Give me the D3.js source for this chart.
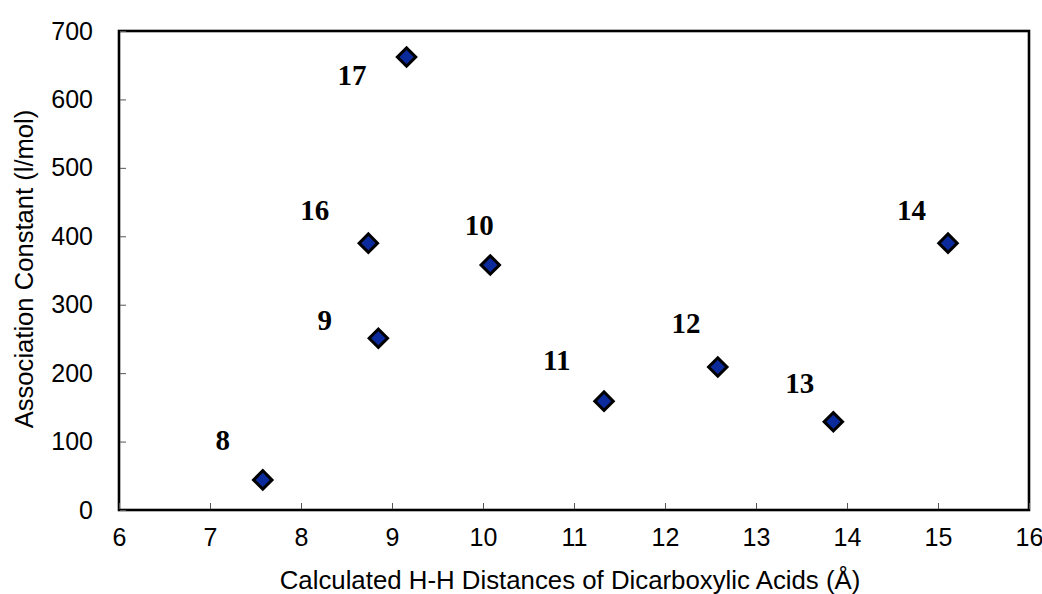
<!DOCTYPE html>
<html><head><meta charset="utf-8">
<script src="https://cdn.jsdelivr.net/npm/d3@7"></script>
<style>body{margin:0;background:#fff}svg{display:block}</style>
</head><body>
<script>
const labels = ["8","9","10","11","12","13","14","16","17"];
const distances = [7.58, 8.85, 10.08, 11.33, 12.58, 13.85, 15.11, 8.74, 9.16];
const constants = [44, 251, 358, 159, 209, 129, 390, 390, 662];
const labelX = [7.14, 8.26, 9.96, 10.81, 12.23, 13.48, 14.71, 8.15, 8.56];
const labelY = [102, 278, 417, 219, 273, 186, 439, 439, 636];
const xTicks = [6,7,8,9,10,11,12,13,14,15,16];
const yTicks = [0,100,200,300,400,500,600,700];

const W = 1042, H = 594;
const m = {left:119, right:1042-1029, top:31, bottom:594-510};
const svg = d3.select("body").append("svg").attr("width", W).attr("height", H);
const x = d3.scaleLinear().domain([6,16]).range([m.left, W-m.right]);
const y = d3.scaleLinear().domain([0,700]).range([H-m.bottom, m.top]);
const sans = "Liberation Sans, Arial, Helvetica, sans-serif";

// frame
svg.append("rect").attr("x", x(6)).attr("y", y(700)).attr("width", x(16)-x(6)).attr("height", y(0)-y(700))
  .attr("fill","none").attr("stroke","#000").attr("stroke-width",2.6);

// axes (ticks inside)
const xa = svg.append("g").attr("transform",`translate(0,${y(0)})`)
  .call(d3.axisBottom(x).tickValues(xTicks).tickSize(0).tickPadding(18).tickFormat(d3.format("d")));
xa.select(".domain").remove();
xa.selectAll(".tick").append("line").attr("y1",-1).attr("y2",-7).attr("stroke","#555").attr("stroke-width",1);
xa.selectAll("text").attr("font-family",sans).attr("font-size",25).attr("fill","#000");

const ya = svg.append("g").attr("transform",`translate(${x(6)},0)`)
  .call(d3.axisLeft(y).tickValues(yTicks).tickSize(0).tickPadding(26).tickFormat(d3.format("d")));
ya.select(".domain").remove();
ya.selectAll(".tick").append("line").attr("x1",1).attr("x2",7).attr("stroke","#555").attr("stroke-width",1);
ya.selectAll("text").attr("font-family",sans).attr("font-size",25).attr("fill","#000");

// axis titles
svg.append("text").attr("x", 570).attr("y", 589).attr("text-anchor","middle")
  .attr("font-family",sans).attr("font-size",25.8)
  .text("Calculated H-H Distances of Dicarboxylic Acids (Å)");
svg.append("text").attr("transform",`translate(33,269) rotate(-90)`).attr("text-anchor","middle")
  .attr("font-family",sans).attr("font-size",25.6)
  .text("Association Constant (l/mol)");

// points
const data = labels.map((l,i)=>({l, x:distances[i], y:constants[i], lx:labelX[i], ly:labelY[i]}));
svg.append("g").selectAll("path").data(data).join("path")
  .attr("d", d3.symbol(d3.symbolSquare, 170)())
  .attr("transform", d=>`translate(${x(d.x)},${y(d.y)}) rotate(45)`)
  .attr("fill","#0b2a9b").attr("stroke","#000").attr("stroke-width",3);

svg.append("g").selectAll("text").data(data).join("text")
  .attr("x", d=>x(d.lx)).attr("y", d=>y(d.ly)).attr("dy","0.35em").attr("text-anchor","middle")
  .attr("font-family","Liberation Serif, Times New Roman, serif").attr("font-weight","bold").attr("font-size",29)
  .text(d=>d.l);
</script>
</body></html>
